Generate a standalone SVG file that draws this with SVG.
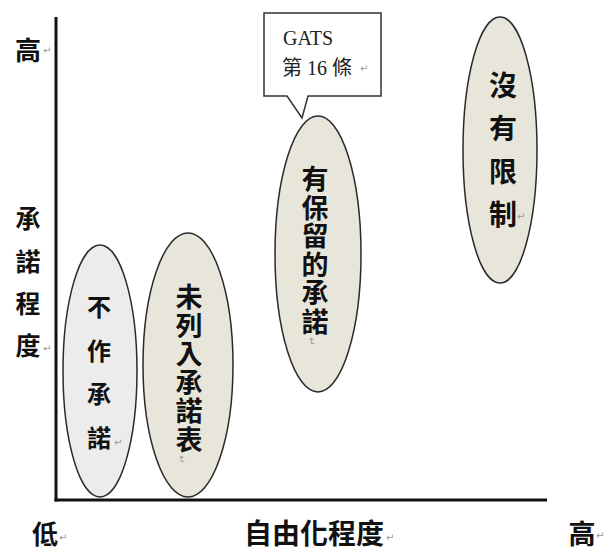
<svg xmlns="http://www.w3.org/2000/svg" width="609" height="552" viewBox="0 0 609 552">
<style>
.cjk{font-family:"Noto Sans CJK TC","Noto Sans CJK SC",sans-serif;font-weight:bold;fill:#111;text-anchor:middle}
.ell{stroke:#2a2a2a;stroke-width:1.5}
.e1{fill:#ececec}
.e2{fill:#e8e6da}
.pm{font-family:"DejaVu Sans",sans-serif;font-size:10px;fill:#999}
.axis{stroke:#111;stroke-width:3;fill:none}
.serif{font-family:"Liberation Serif","Noto Sans CJK TC",serif;font-size:20px;fill:#222}
</style>
<rect width="609" height="552" fill="#fff"/>
<g id="connectors">
<line class="axis" x1="56" y1="17" x2="56" y2="501.5"/>
<line class="axis" x1="54.5" y1="500" x2="547" y2="500"/>
</g>
<g id="axis-labels">
<text class="cjk" font-size="26" x="28" y="60">高</text>
<text class="pm" x="43" y="54">↵</text>
<text class="cjk" font-size="25"><tspan x="28" y="228">承</tspan><tspan x="28" y="271">諾</tspan><tspan x="28" y="313">程</tspan><tspan x="28" y="355">度</tspan></text>
<text class="pm" x="43" y="352">↵</text>
<text class="cjk" font-size="26" x="45" y="544">低</text>
<text class="pm" x="59" y="541">↵</text>
<text class="cjk" font-size="28" x="314" y="544">自由化程度</text>
<text class="pm" x="386" y="541">↵</text>
<text class="cjk" font-size="27" x="582" y="544">高</text>
<text class="pm" x="596" y="539">↵</text>
</g>
<g id="node-no-commitment">
<ellipse class="ell e1" cx="100" cy="371" rx="37" ry="126"/>
<text class="cjk" font-size="24"><tspan x="99" y="316">不</tspan><tspan x="99" y="360">作</tspan><tspan x="99" y="403">承</tspan><tspan x="99" y="447">諾</tspan></text>
<text class="pm" x="114" y="446">↵</text>
</g>
<g id="node-unlisted">
<ellipse class="ell e2" cx="188" cy="365" rx="45" ry="132"/>
<text class="cjk" font-size="27"><tspan x="189" y="307">未</tspan><tspan x="189" y="335.5">列</tspan><tspan x="189" y="364">入</tspan><tspan x="189" y="392.5">承</tspan><tspan x="189" y="421">諾</tspan><tspan x="189" y="449.5">表</tspan></text>
<text class="pm" transform="translate(178,455) rotate(90)">↵</text>
</g>
<g id="node-reserved">
<ellipse class="ell e2" cx="318" cy="254" rx="43" ry="138"/>
<text class="cjk" font-size="27"><tspan x="315" y="189">有</tspan><tspan x="315" y="217.5">保</tspan><tspan x="315" y="246">留</tspan><tspan x="315" y="274.5">的</tspan><tspan x="315" y="303">承</tspan><tspan x="315" y="331.5">諾</tspan></text>
<text class="pm" transform="translate(308,337) rotate(90)">↵</text>
</g>
<g id="node-unlimited">
<ellipse class="ell e2" cx="500" cy="150" rx="37" ry="133"/>
<text class="cjk" font-size="28"><tspan x="503" y="96">沒</tspan><tspan x="503" y="139">有</tspan><tspan x="503" y="182">限</tspan><tspan x="503" y="225">制</tspan></text>
<text class="pm" x="517" y="220">↵</text>
</g>
<g id="callout-gats">
<path d="M264,13 H381 V96 H308 L302,118 L287,96 H264 Z" fill="#fff" stroke="#333" stroke-width="1.5"/>
<text class="serif" x="283" y="45">GATS</text>
<text class="serif" x="282" y="75">第 16 條</text>
<text class="pm" x="360" y="72">↵</text>
</g>
</svg>
